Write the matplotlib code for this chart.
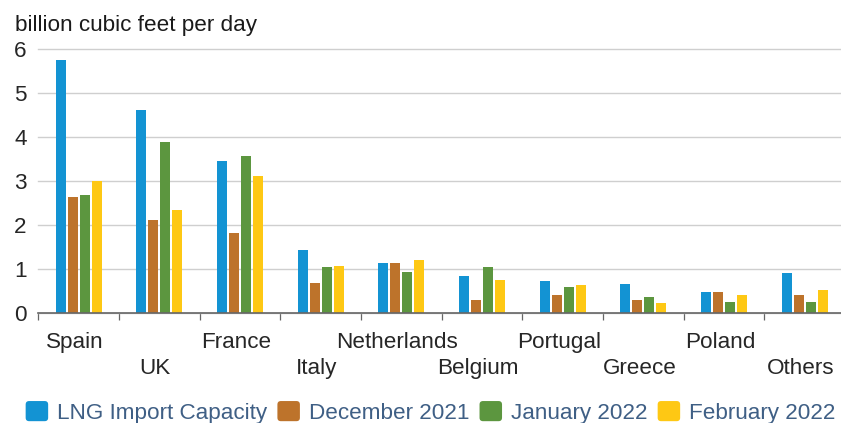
import numpy as np
import matplotlib
matplotlib.use("Agg")
import matplotlib.pyplot as plt
from matplotlib.patches import FancyBboxPatch, Rectangle
from matplotlib.legend_handler import HandlerPatch
from matplotlib.transforms import blended_transform_factory, ScaledTranslation

plt.rcParams['font.family'] = ['Liberation Sans', 'DejaVu Sans']

# LNG send-out by country, billion cubic feet per day
countries = ['Spain', 'UK', 'France', 'Italy', 'Netherlands',
             'Belgium', 'Portugal', 'Greece', 'Poland', 'Others']
capacity = [5.76, 4.61, 3.46, 1.43, 1.13, 0.84, 0.71, 0.65, 0.47, 0.90]
dec_2021 = [2.64, 2.12, 1.82, 0.67, 1.13, 0.30, 0.41, 0.28, 0.47, 0.41]
jan_2022 = [2.67, 3.88, 3.56, 1.03, 0.93, 1.03, 0.58, 0.35, 0.24, 0.24]
feb_2022 = [3.00, 2.34, 3.10, 1.06, 1.20, 0.74, 0.64, 0.21, 0.41, 0.51]

series_names = ['LNG Import Capacity', 'December 2021', 'January 2022', 'February 2022']
colors = ['#1393d3', '#bd732b', '#5c963f', '#fec814']

FS = 16.2
W, H = 841, 423

fig = plt.figure(figsize=(W / 100, H / 100), dpi=100)
ax = fig.add_axes([38.3 / W, 1 - 312.7 / H, (845 - 38.3) / W, (312.7 - 49) / H])

x = np.arange(len(countries))
pitch, width = 0.1487, 0.124
bars = []
for i, (vals, c) in enumerate(zip([capacity, dec_2021, jan_2022, feb_2022], colors)):
    b = ax.bar(x + (i - 1.5) * pitch, vals, width=width, color=c, zorder=3)
    bars.append(b)

ax.set_xlim(-0.5, len(countries) - 0.5)
ax.set_ylim(0, 6)
ax.set_yticks(range(0, 7))
ax.grid(axis='y', color='#cfcfcf', linewidth=1.0, zorder=0)
for gl in ax.get_ygridlines():
    gl.set_clip_on(False)

for side in ['left', 'right', 'top']:
    ax.spines[side].set_visible(False)
ax.spines['bottom'].set_color('#666666')
ax.spines['bottom'].set_linewidth(1.2)
ax.spines['bottom'].set_zorder(4)

ax.tick_params(axis='y', length=0, pad=8.3, labelsize=FS, labelcolor='#262626')
ax.set_xticks(np.arange(-0.5, len(countries), 1.0))
ax.tick_params(axis='x', length=5, width=0.9, color='#666666', labelbottom=False)

# staggered category labels, alternating between two rows
base = blended_transform_factory(ax.transData, ax.transAxes)
for i, name in enumerate(countries):
    dy = -35.6 if i % 2 == 0 else -61.3
    tr = base + ScaledTranslation(-4 / 100, dy / 100, fig.dpi_scale_trans)
    ax.text(i, 0, name, transform=tr, ha='center', va='baseline',
            fontsize=FS, color='#262626')

fig.text(15 / W, 1 - 31 / H, 'billion cubic feet per day', ha='left', va='baseline',
         fontsize=FS, color='#1a1a1a')


def rounded_square(legend, orig_handle, xdescent, ydescent, width, height, fontsize):
    return FancyBboxPatch((-xdescent, -ydescent), width, height,
                          boxstyle='round,pad=0,rounding_size=2.5')


handles = [b.patches[0] for b in bars]
fig.legend(handles, series_names, loc='center', bbox_to_anchor=(0.512, 0.025),
           ncol=4, frameon=False, fontsize=FS, labelcolor='#3f5f85',
           handlelength=1.0, handleheight=1.0, handletextpad=0.4,
           columnspacing=0.45, borderpad=0, borderaxespad=0,
           handler_map={Rectangle: HandlerPatch(patch_func=rounded_square)})

fig.savefig('out.png', dpi=100)
